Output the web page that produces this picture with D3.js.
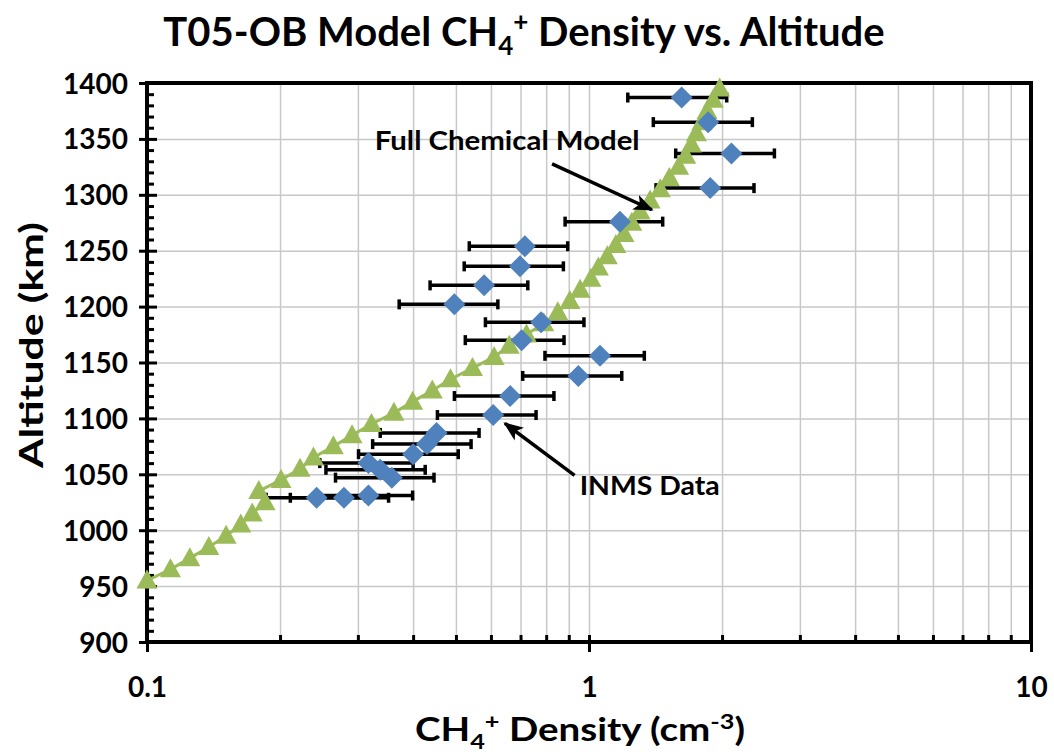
<!DOCTYPE html>
<html>
<head>
<meta charset="utf-8">
<script src="https://cdn.jsdelivr.net/npm/d3@7"></script>
<style>
  body { margin: 0; background: #fff; }
  text { font-family: Lato, "Open Sans", sans-serif; font-weight: bold; fill: #000; }
</style>
</head>
<body>
<script>
// INMS measurements (diamonds) with error bar ends
const inmsAltitude = [1387, 1365, 1337, 1306, 1276, 1254, 1236, 1219, 1202, 1186, 1170, 1156, 1138, 1120, 1103, 1087, 1077, 1068, 1060, 1054, 1047, 1029, 1029, 1031];
const inmsDensity  = [1.62, 1.86, 2.10, 1.88, 1.175, 0.716, 0.698, 0.579, 0.496, 0.779, 0.704, 1.059, 0.946, 0.663, 0.607, 0.452, 0.430, 0.400, 0.317, 0.337, 0.358, 0.242, 0.279, 0.317];
const inmsLow      = [1.224, 1.398, 1.571, 1.418, 0.883, 0.536, 0.522, 0.437, 0.372, 0.583, 0.525, 0.795, 0.708, 0.496, 0.454, 0.337, 0.324, 0.301, 0.246, 0.254, 0.267, 0.186, 0.211, 0.244];
const inmsHigh     = [2.049, 2.342, 2.627, 2.362, 1.468, 0.895, 0.875, 0.727, 0.622, 0.974, 0.878, 1.334, 1.186, 0.833, 0.759, 0.564, 0.541, 0.506, 0.400, 0.426, 0.446, 0.313, 0.352, 0.399];

// full chemical model (triangles)
const modelAltitude = [955, 965, 975, 985, 995, 1005, 1015, 1025, 1035, 1045, 1055, 1065, 1075, 1085, 1095, 1105, 1115, 1125, 1135, 1145, 1155, 1165, 1175, 1185, 1195, 1205, 1215, 1225, 1235, 1245, 1255, 1265, 1275, 1285, 1295, 1305, 1315, 1325, 1335, 1345, 1355, 1365, 1375, 1385, 1395];
const modelDensity  = [0.100, 0.113, 0.125, 0.138, 0.151, 0.163, 0.173, 0.185, 0.179, 0.201, 0.222, 0.238, 0.264, 0.291, 0.322, 0.362, 0.399, 0.442, 0.486, 0.545, 0.610, 0.660, 0.722, 0.790, 0.850, 0.905, 0.955, 1.010, 1.050, 1.100, 1.150, 1.200, 1.250, 1.305, 1.375, 1.450, 1.520, 1.595, 1.655, 1.705, 1.750, 1.800, 1.850, 1.910, 1.975];

const yTicks = [900, 950, 1000, 1050, 1100, 1150, 1200, 1250, 1300, 1350, 1400];
const xTicks = [0.1, 1, 10];
const xTickLabels = ["0.1", "1", "10"];

const width = 1054, height = 754;
const margin = {top: 83, right: 23, bottom: 112, left: 147};

const svg = d3.select('body').append('svg')
  .attr('width', width)
  .attr('height', height);

const x = d3.scaleLog()
  .domain([0.1, 10])
  .range([margin.left, width - margin.right]);

const y = d3.scaleLinear()
  .domain([900, 1400])
  .range([height - margin.bottom, margin.top]);

const minorX = [0.2, 0.3, 0.4, 0.5, 0.6, 0.7, 0.8, 0.9, 2, 3, 4, 5, 6, 7, 8, 9];
const minorY = d3.range(900, 1401, 10).filter(v => v % 50 !== 0);

// gridlines
svg.append('g')
  .attr('transform', 'translate(0,' + y(900) + ')')
  .call(d3.axisBottom(x).tickValues(minorX.concat([1])).tickSize(-(y(900) - y(1400))).tickFormat(''))
  .call(g => g.select('.domain').remove())
  .selectAll('line').attr('stroke', '#c8c8c8').attr('stroke-width', 1.5);

svg.append('g')
  .attr('transform', 'translate(' + x(0.1) + ',0)')
  .call(d3.axisRight(y).tickValues(yTicks).tickSize(x(10) - x(0.1)).tickFormat(''))
  .call(g => g.select('.domain').remove())
  .selectAll('line').attr('stroke', '#c8c8c8').attr('stroke-width', 1.5);

// frame
svg.append('rect')
  .attr('x', x(0.1)).attr('y', y(1400))
  .attr('width', x(10) - x(0.1)).attr('height', y(900) - y(1400))
  .attr('fill', 'none').attr('stroke', '#000').attr('stroke-width', 4);

// minor ticks
svg.append('g')
  .attr('transform', 'translate(' + x(0.1) + ',0)')
  .call(d3.axisRight(y).tickValues(minorY).tickSize(7).tickFormat(''))
  .call(g => g.select('.domain').remove())
  .selectAll('line').attr('stroke', '#000').attr('stroke-width', 3);

svg.append('g')
  .attr('transform', 'translate(0,' + y(900) + ')')
  .call(d3.axisTop(x).tickValues(minorX).tickSize(7).tickFormat(''))
  .call(g => g.select('.domain').remove())
  .selectAll('line').attr('stroke', '#000').attr('stroke-width', 3);

// major axes
const yAxis = svg.append('g')
  .attr('transform', 'translate(' + x(0.1) + ',0)')
  .call(d3.axisLeft(y).tickValues(yTicks).tickSize(8).tickFormat(d3.format('d')));
yAxis.select('.domain').remove();
yAxis.selectAll('line').attr('x1', 10).attr('x2', -8).attr('stroke', '#000').attr('stroke-width', 3);
yAxis.selectAll('text')
  .attr('x', -19).attr('dy', '0.36em')
  .style('font-size', '28px');

const xAxis = svg.append('g')
  .attr('transform', 'translate(0,' + y(900) + ')')
  .call(d3.axisBottom(x).tickValues(xTicks).tickSize(10).tickFormat((d, i) => xTickLabels[i]));
xAxis.select('.domain').remove();
xAxis.selectAll('line').attr('y1', -7).attr('y2', 10).attr('stroke', '#000').attr('stroke-width', 3);
xAxis.selectAll('text')
  .attr('y', 55).attr('dy', 0)
  .style('font-size', '28px');

// error bars
const inms = inmsAltitude.map((a, i) => ({alt: a, v: inmsDensity[i], lo: inmsLow[i], hi: inmsHigh[i]}));
const eb = svg.append('g').attr('class', 'errorbars');
eb.selectAll('line.bar').data(inms).join('line')
  .attr('x1', d => x(d.lo)).attr('x2', d => x(d.hi))
  .attr('y1', d => y(d.alt)).attr('y2', d => y(d.alt))
  .attr('stroke', '#000').attr('stroke-width', 3.5);
eb.selectAll('line.lo').data(inms).join('line').attr('class', 'lo')
  .attr('x1', d => x(d.lo)).attr('x2', d => x(d.lo))
  .attr('y1', d => y(d.alt) - 5).attr('y2', d => y(d.alt) + 5)
  .attr('stroke', '#000').attr('stroke-width', 3.5);
eb.selectAll('line.hi').data(inms).join('line').attr('class', 'hi')
  .attr('x1', d => x(d.hi)).attr('x2', d => x(d.hi))
  .attr('y1', d => y(d.alt) - 5).attr('y2', d => y(d.alt) + 5)
  .attr('stroke', '#000').attr('stroke-width', 3.5);

// model line + triangles
const model = modelAltitude.map((a, i) => ({alt: a, v: modelDensity[i]}));
svg.append('path')
  .datum(model)
  .attr('d', d3.line().x(d => x(d.v)).y(d => y(d.alt)))
  .attr('fill', 'none').attr('stroke', '#9bbb59').attr('stroke-width', 3);

svg.append('g').selectAll('path').data(model).join('path')
  .attr('transform', d => 'translate(' + x(d.v) + ',' + y(d.alt) + ')')
  .attr('d', 'M0,-11L10.5,8L-10.5,8Z')
  .attr('fill', '#9bbb59');

// diamonds
svg.append('g').selectAll('path').data(inms).join('path')
  .attr('transform', d => 'translate(' + x(d.v) + ',' + y(d.alt) + ')')
  .attr('d', 'M0,-11L11,0L0,11L-11,0Z')
  .attr('fill', '#4f81bd');

// annotations
svg.append('defs').append('marker')
  .attr('id', 'arrow')
  .attr('markerUnits', 'userSpaceOnUse')
  .attr('viewBox', '0 0 20 16')
  .attr('refX', 18).attr('refY', 8)
  .attr('markerWidth', 20).attr('markerHeight', 16)
  .attr('orient', 'auto')
  .append('path').attr('d', 'M0,0L20,8L0,16L5,8Z').attr('fill', '#000');

svg.append('line')
  .attr('x1', x(0.825)).attr('y1', y(1327.7))
  .attr('x2', x(1.387)).attr('y2', y(1286.6))
  .attr('stroke', '#000').attr('stroke-width', 3.5)
  .attr('marker-end', 'url(#arrow)');

svg.append('line')
  .attr('x1', x(0.9276)).attr('y1', y(1049))
  .attr('x2', x(0.6455)).attr('y2', y(1095.5))
  .attr('stroke', '#000').attr('stroke-width', 3.5)
  .attr('marker-end', 'url(#arrow)');

svg.append('text')
  .attr('x', x(0.653)).attr('y', y(1340.2))
  .attr('text-anchor', 'middle')
  .attr('textLength', 265).attr('lengthAdjust', 'spacingAndGlyphs')
  .style('font-size', '27px')
  .text('Full Chemical Model');

svg.append('text')
  .attr('x', x(1.3717)).attr('y', y(1031.25))
  .attr('text-anchor', 'middle')
  .attr('textLength', 140).attr('lengthAdjust', 'spacingAndGlyphs')
  .style('font-size', '27px')
  .text('INMS Data');

// title
const title = svg.append('text')
  .attr('x', 524).attr('y', 46)
  .attr('text-anchor', 'middle')
  .style('font-size', '40px');
title.append('tspan').text('T05-OB Model CH');
title.append('tspan').attr('dy', 9).style('font-size', '26px').text('4');
title.append('tspan').attr('dy', -24).style('font-size', '26px').text('+');
title.append('tspan').attr('dy', 15).text(' Density vs. Altitude');

// axis titles
const xt = svg.append('text')
  .attr('x', 580).attr('y', 741)
  .attr('text-anchor', 'middle')
  .attr('textLength', 330).attr('lengthAdjust', 'spacingAndGlyphs')
  .style('font-size', '32px');
xt.append('tspan').text('CH');
xt.append('tspan').attr('dy', 8).style('font-size', '21px').text('4');
xt.append('tspan').attr('dy', -20).style('font-size', '21px').text('+');
xt.append('tspan').attr('dy', 12).text(' Density (cm');
xt.append('tspan').attr('dy', -12).style('font-size', '21px').text('-3');
xt.append('tspan').attr('dy', 12).text(')');

svg.append('text')
  .attr('transform', 'translate(43,345) rotate(-90)')
  .attr('text-anchor', 'middle')
  .attr('textLength', 246).attr('lengthAdjust', 'spacingAndGlyphs')
  .style('font-size', '32px')
  .text('Altitude (km)');
</script>
</body>
</html>
